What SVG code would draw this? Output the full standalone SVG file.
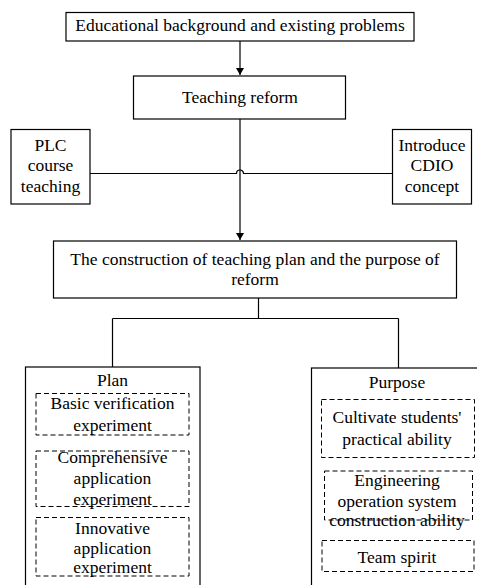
<svg xmlns="http://www.w3.org/2000/svg" width="477" height="585" viewBox="0 0 477 585">
<style>
.box{fill:#fff;stroke:#000;stroke-width:1.2}
.dash{fill:none;stroke:#000;stroke-width:1;stroke-dasharray:5 3}
.ln{fill:none;stroke:#000;stroke-width:1.2}
.t{font-family:'Liberation Serif','Times New Roman',serif;font-size:17.5px;fill:#000;text-anchor:middle}
</style>
<defs>
<marker id="ah" markerWidth="8" markerHeight="8" refX="7" refY="4" orient="auto" markerUnits="userSpaceOnUse">
<path d="M0,0 L7,4 L0,8 Z" fill="#000"/>
</marker>
</defs>
<rect width="477" height="585" fill="#fff"/>
<g id="connectors">
<line class="ln" x1="240" y1="41" x2="240" y2="75" marker-end="url(#ah)"/>
<line class="ln" x1="240" y1="119" x2="240" y2="240" marker-end="url(#ah)"/>
<path class="ln" d="M90,173.5 H236.5 A3.5,3.5 0 0 1 243.5,173.5 H393"/>
<path class="ln" d="M258.5,298 V318.5 M112.5,318.5 H398.5 M112.5,318.5 V367 M398.5,318.5 V368"/>
</g>
<g id="n-background">
<rect class="box" x="66" y="12.5" width="348" height="28.5"/>
<text class="t" x="240" y="31">Educational background and existing problems</text>
</g>
<g id="n-reform">
<rect class="box" x="133.5" y="76" width="212" height="43"/>
<text class="t" x="240" y="102.5">Teaching reform</text>
</g>
<g id="n-plc">
<rect class="box" x="11" y="129.5" width="79" height="74.5"/>
<text class="t" x="50.5" y="151">PLC</text>
<text class="t" x="50.5" y="171">course</text>
<text class="t" x="50.5" y="192">teaching</text>
</g>
<g id="n-cdio">
<rect class="box" x="392.5" y="129.5" width="79" height="74.5"/>
<text class="t" x="432" y="151">Introduce</text>
<text class="t" x="432" y="171">CDIO</text>
<text class="t" x="432" y="192">concept</text>
</g>
<g id="n-construction">
<rect class="box" x="53.5" y="241" width="403" height="57"/>
<text class="t" x="255" y="265">The construction of teaching plan and the purpose of</text>
<text class="t" x="255" y="285">reform</text>
</g>
<g id="n-plan">
<rect class="box" x="25.5" y="367" width="174.5" height="230"/>
<text class="t" x="112.5" y="386">Plan</text>
<rect class="dash" x="36" y="393.5" width="153" height="41.5"/>
<text class="t" x="112.5" y="408.5">Basic verification</text>
<text class="t" x="112.5" y="430.5">experiment</text>
<rect class="dash" x="36" y="451" width="153" height="55.5"/>
<text class="t" x="112.5" y="462.5">Comprehensive</text>
<text class="t" x="112.5" y="483.5">application</text>
<text class="t" x="112.5" y="504.5">experiment</text>
<rect class="dash" x="36" y="517.5" width="153" height="58.5"/>
<text class="t" x="112.5" y="534">Innovative</text>
<text class="t" x="112.5" y="554">application</text>
<text class="t" x="112.5" y="572.5">experiment</text>
</g>
<g id="n-purpose">
<rect class="box" x="311.5" y="368" width="180" height="230"/>
<text class="t" x="397" y="387.5">Purpose</text>
<rect class="dash" x="321.5" y="399.5" width="153" height="58"/>
<text class="t" x="397" y="423">Cultivate students'</text>
<text class="t" x="397" y="445">practical ability</text>
<rect class="dash" x="324.5" y="471" width="148" height="49"/>
<text class="t" x="397" y="486">Engineering</text>
<text class="t" x="397" y="506.5">operation system</text>
<text class="t" x="397" y="526">construction ability</text>
<rect class="dash" x="322" y="540.5" width="152" height="31"/>
<text class="t" x="397" y="562.5">Team spirit</text>
</g>
</svg>
